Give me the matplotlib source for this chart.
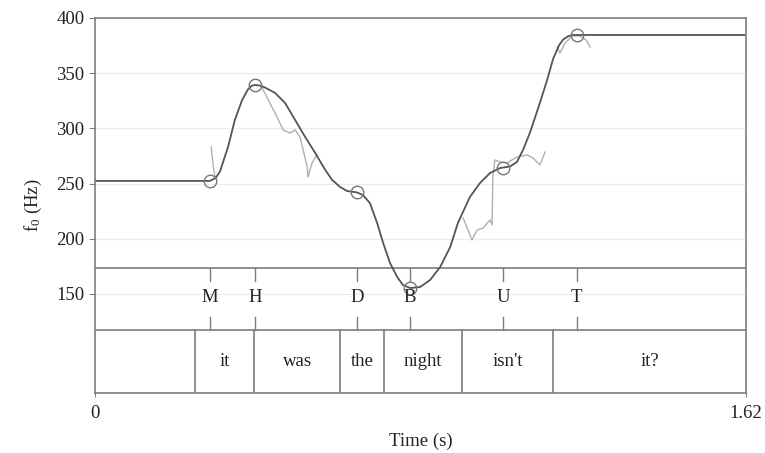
import matplotlib
matplotlib.use("Agg")
import matplotlib.pyplot as plt

plt.rcParams['font.family'] = ['Liberation Serif', 'DejaVu Serif']

# tonal targets
tone_labels = ['M', 'H', 'D', 'B', 'U', 'T']
tone_times = [0.286, 0.398, 0.652, 0.784, 1.015, 1.199]
tone_hz = [252, 339, 242, 155, 264, 385]

# word tier
words = ['', 'it', 'was', 'the', 'night', "isn't", 'it?']
word_bounds = [0.0, 0.249, 0.396, 0.610, 0.719, 0.913, 1.140, 1.62]

# modelled f0 contour
curve_t = [0.0, 0.286, 0.300, 0.311, 0.331, 0.348, 0.366, 0.381, 0.390, 0.398, 0.410,
           0.423, 0.448, 0.473, 0.498, 0.523, 0.548, 0.573, 0.590, 0.610, 0.627,
           0.640, 0.652, 0.667, 0.684, 0.702, 0.717, 0.734, 0.752, 0.766, 0.784,
           0.809, 0.834, 0.859, 0.884, 0.903, 0.933, 0.958, 0.983, 1.008, 1.033,
           1.050, 1.065, 1.082, 1.107, 1.125, 1.140, 1.155, 1.165, 1.178, 1.189,
           1.202, 1.62]
curve_hz = [252.4, 252.4, 255.0, 261.0, 283.2, 307.6, 325.7, 335.5, 338.6, 339.3, 338.8,
            337.0, 332.1, 323.0, 307.6, 292.2, 277.7, 262.3, 253.3, 246.9, 243.3,
            242.6, 242.0, 239.5, 232.4, 214.3, 196.2, 178.1, 165.4, 158.2, 155.4,
            156.3, 162.7, 174.5, 192.6, 214.3, 237.9, 250.5, 259.6, 264.1, 265.5,
            269.6, 280.4, 295.8, 323.0, 343.8, 363.0, 375.5, 380.5, 383.6, 384.6,
            384.6, 384.6]

# measured f0 fragments
raw1_t = [0.289, 0.294, 0.299]
raw1_hz = [283.2, 266.9, 255.1]
raw2_t = [0.416, 0.435, 0.453, 0.468, 0.485, 0.498, 0.510, 0.518, 0.528, 0.530,
          0.540, 0.552]
raw2_hz = [336.6, 323.0, 310.3, 298.6, 295.8, 298.6, 292.2, 280.4, 265.0, 256.0,
           268.7, 275.9]
raw3_t = [0.916, 0.928, 0.938, 0.951, 0.966, 0.983, 0.988, 0.990, 0.995, 1.008,
          1.025, 1.050, 1.075, 1.090, 1.107, 1.120]
raw3_hz = [218.8, 208.0, 198.9, 208.0, 209.8, 217.0, 212.5, 256.0, 271.4, 269.6,
           268.7, 274.1, 275.9, 273.2, 266.8, 278.6]
raw4_t = [1.150, 1.157, 1.170, 1.187, 1.207, 1.222, 1.232]
raw4_hz = [373.7, 368.3, 377.4, 383.7, 383.7, 380.1, 373.7]

tone_line = 173.6
word_line = 117.4
ymin = 60.3

fig = plt.figure(figsize=(7.65, 4.53), dpi=100)
ax = fig.add_axes([0.1242, 0.1325, 0.851, 0.8278])

edge = '#7d7d7d'
txt = '#222222'
for s in ax.spines.values():
    s.set_color(edge)
    s.set_linewidth(1.2)

for h in [150, 200, 250, 300, 350]:
    ax.axhline(h, color='#ececec', lw=0.8, zorder=0)

# tiers
ax.axhline(tone_line, color=edge, lw=1.2)
ax.axhline(word_line, color=edge, lw=1.2)
for b in word_bounds[1:-1]:
    ax.plot([b, b], [ymin, word_line], color=edge, lw=1.2)
for i, w in enumerate(words):
    ax.text((word_bounds[i] + word_bounds[i + 1]) / 2, 88.4, w,
            ha='center', va='center', fontsize=13.5, color=txt)

for t, lab in zip(tone_times, tone_labels):
    ax.plot([t, t], [tone_line, 161.8], color=edge, lw=1.0)
    ax.plot([t, t], [129.2, word_line], color=edge, lw=1.0)
    ax.text(t, 146.4, lab, ha='center', va='center', fontsize=13.5, color=txt)

# f0
for rt, rh in [(raw1_t, raw1_hz), (raw2_t, raw2_hz), (raw3_t, raw3_hz), (raw4_t, raw4_hz)]:
    ax.plot(rt, rh, color='#b0b0b0', lw=1.0)
ax.plot(curve_t, curve_hz, color='#555555', lw=1.3)
ax.plot(tone_times, tone_hz, 'o', ms=9, mfc='none', mec='#777777', mew=1.0)

ax.set_xlim(0, 1.62)
ax.set_ylim(ymin, 400)
ax.set_yticks([150, 200, 250, 300, 350, 400])
ax.set_xticks([0, 1.62])
ax.set_xticklabels(['0', '1.62'])
ax.tick_params(axis='y', labelsize=13.5, colors=txt, length=4, color=edge)
ax.tick_params(axis='x', labelsize=13.5, colors=txt, length=3, color=edge, pad=6)
ax.set_xlabel('Time (s)', fontsize=13.5, color=txt, labelpad=7)
ax.set_ylabel(r'$\mathregular{f_0}$ (Hz)', fontsize=13.5, color=txt, labelpad=9)

fig.savefig('out.png', dpi=100)
